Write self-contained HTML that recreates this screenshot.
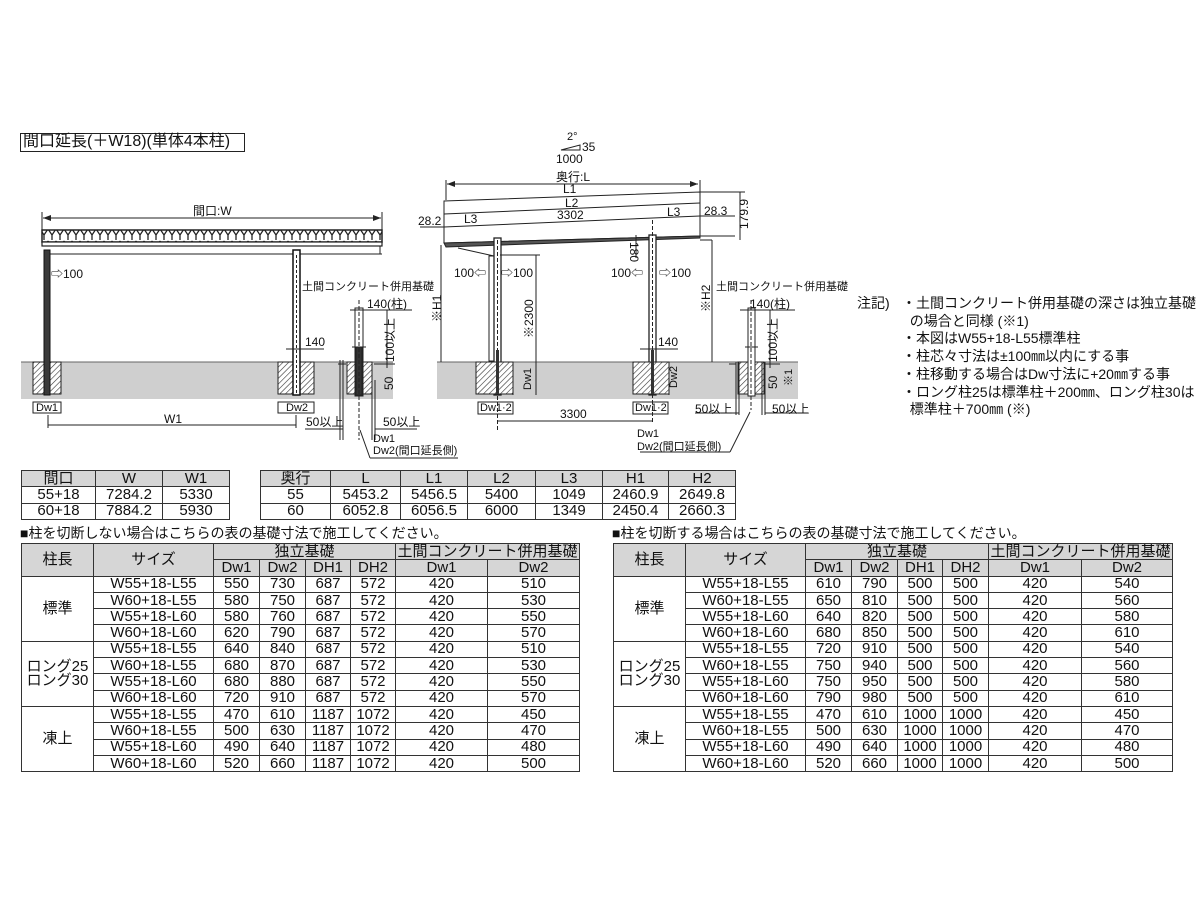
<!DOCTYPE html>
<html><head><meta charset="utf-8">
<style>
body{margin:0;background:#fff;}
#root{position:relative;width:1200px;height:900px;overflow:hidden;font-family:"Liberation Sans","Noto Sans CJK JP",sans-serif;color:#111;}
.t{position:absolute;white-space:nowrap;line-height:1;}
table{position:absolute;border-collapse:collapse;table-layout:fixed;font-size:15px;}
td{border:1px solid #333;padding:0;text-align:center;height:15.3px;line-height:14px;overflow:hidden;white-space:nowrap;}
td.h{background:#d6d6d6;}
svg{position:absolute;left:0;top:0;}
</style></head><body><div id="root">

<svg width="1200" height="900" viewBox="0 0 1200 900">
<defs>
<pattern id="hatch" width="4" height="4" patternUnits="userSpaceOnUse" patternTransform="rotate(45)">
<rect width="4" height="4" fill="#fff"/><line x1="0" y1="0" x2="0" y2="4" stroke="#333" stroke-width="1.2"/></pattern>
<pattern id="lat" width="8" height="12" patternUnits="userSpaceOnUse">
<rect width="8" height="12" fill="#fff"/><path d="M0 1 L4 7 L8 1 M4 7 V12" stroke="#222" stroke-width="1.3" fill="none"/></pattern>
<marker id="ar" markerWidth="8" markerHeight="6" refX="8" refY="3" orient="auto-start-reverse"><path d="M0 0 L8 3 L0 6" fill="#222"/></marker>
</defs>
<g stroke="#222" stroke-width="1" fill="none">
<rect x="20.5" y="133.5" width="224" height="18"/>
<rect x="21" y="362" width="372" height="37" fill="#cfcfcf" stroke="none"/>
<rect x="437" y="362" width="361" height="37" fill="#cfcfcf" stroke="none"/>
<line x1="21" y1="362" x2="393" y2="362" stroke="#666"/>
<line x1="437" y1="362" x2="798" y2="362" stroke="#666"/>
<line x1="43" y1="218" x2="381" y2="218" marker-start="url(#ar)" marker-end="url(#ar)"/>
<line x1="42" y1="212" x2="42" y2="232"/><line x1="382" y1="212" x2="382" y2="232"/>
<rect x="42" y="230" width="340" height="12" fill="url(#lat)" stroke="#222" stroke-width="1.5"/>
<rect x="42" y="242" width="340" height="4" fill="#fff" stroke-width="1.2"/>
<line x1="48" y1="254" x2="382" y2="254"/><line x1="380" y1="246" x2="380" y2="254"/>
<rect x="33" y="362" width="28" height="32" fill="url(#hatch)"/>
<rect x="278" y="362" width="36" height="32" fill="url(#hatch)"/>
<rect x="44" y="250" width="6" height="145" fill="#3a3a3a" stroke="#111"/>
<rect x="293" y="250" width="7" height="145" fill="#fff" stroke="#111" stroke-width="1.5"/>
<line x1="296.5" y1="255" x2="296.5" y2="395" stroke-dasharray="3 2"/>
<rect x="33" y="402" width="28" height="11"/><rect x="278" y="402" width="36" height="11"/>
<line x1="48" y1="415" x2="48" y2="428"/><line x1="296" y1="415" x2="296" y2="428"/>
<line x1="48" y1="425" x2="296" y2="425"/>
<line x1="286" y1="349" x2="324" y2="349"/>
<rect x="347" y="362" width="25" height="32" fill="url(#hatch)"/>
<rect x="355" y="308" width="8" height="88" fill="#fff"/>
<rect x="356" y="347" width="6" height="48" fill="#333"/>
<line x1="359" y1="300" x2="359" y2="440" stroke-dasharray="4 2"/>
<line x1="350" y1="310" x2="412" y2="310"/>
<line x1="352" y1="347" x2="366" y2="347"/>
<line x1="387" y1="310" x2="387" y2="368"/>
<line x1="340" y1="360" x2="340" y2="440"/><line x1="343" y1="360" x2="343" y2="440"/>
<line x1="372" y1="380" x2="372" y2="440"/><line x1="375" y1="380" x2="375" y2="440"/>
<line x1="338" y1="364" x2="346" y2="364"/><line x1="374" y1="364" x2="395" y2="364"/>
<line x1="305" y1="429" x2="343" y2="429"/><line x1="375" y1="429" x2="417" y2="429"/>
<line x1="360" y1="430" x2="370" y2="458"/><line x1="370" y1="458" x2="458" y2="458"/>
<line x1="447" y1="184" x2="698" y2="184" marker-start="url(#ar)" marker-end="url(#ar)"/>
<line x1="446" y1="180" x2="446" y2="200"/><line x1="700" y1="180" x2="700" y2="192"/>
<polygon points="444,201 700,192 700,236 444,243" fill="#fff"/>
<line x1="444" y1="214" x2="700" y2="203"/>
<line x1="444" y1="227" x2="700" y2="216"/>
<polygon points="444,243 700,236 700,238 446,247" fill="#555"/>
<line x1="700" y1="236" x2="735" y2="236"/><line x1="740" y1="192" x2="740" y2="240"/>
<line x1="700" y1="192" x2="745" y2="192"/>
<line x1="420" y1="227" x2="444" y2="227"/><line x1="700" y1="216" x2="735" y2="216"/>
<line x1="458" y1="248" x2="494" y2="256"/>
<rect x="489" y="256" width="5" height="105" fill="#fff"/>
<rect x="494" y="238" width="7" height="157" fill="#fff" stroke-width="1.3"/>
<line x1="497.5" y1="240" x2="497.5" y2="430" stroke-dasharray="4 2"/>
<rect x="649" y="235" width="7" height="160" fill="#fff" stroke-width="1.3"/>
<line x1="652.5" y1="220" x2="652.5" y2="422" stroke-dasharray="4 2"/>
<line x1="441" y1="245" x2="441" y2="362"/>
<line x1="500" y1="255" x2="540" y2="255"/><line x1="536" y1="255" x2="536" y2="395"/>
<line x1="636" y1="235" x2="636" y2="258"/>
<line x1="700" y1="240" x2="712" y2="240"/><line x1="712" y1="240" x2="712" y2="362"/>
<rect x="476" y="362" width="37" height="32" fill="url(#hatch)"/>
<rect x="633" y="362" width="36" height="32" fill="url(#hatch)"/>
<rect x="496" y="350" width="3" height="44" fill="#333" stroke="none"/>
<rect x="651" y="350" width="3" height="44" fill="#333" stroke="none"/>
<line x1="513" y1="362" x2="513" y2="395"/><line x1="669" y1="362" x2="669" y2="395"/>
<rect x="478" y="402" width="35" height="12"/><rect x="633" y="402" width="35" height="12"/>
<line x1="497" y1="421" x2="652" y2="421"/>
<line x1="640" y1="349" x2="678" y2="349"/>
<rect x="738" y="362" width="26" height="32" fill="url(#hatch)"/>
<rect x="748" y="308" width="7" height="88" fill="#fff"/>
<line x1="751" y1="300" x2="751" y2="410" stroke-dasharray="4 2"/>
<line x1="740" y1="310" x2="795" y2="310"/>
<line x1="745" y1="347" x2="758" y2="347"/>
<line x1="770" y1="310" x2="770" y2="368"/>
<line x1="736" y1="362" x2="736" y2="415"/><line x1="739" y1="362" x2="739" y2="415"/>
<line x1="762" y1="362" x2="762" y2="415"/><line x1="765" y1="362" x2="765" y2="415"/>
<line x1="729" y1="364" x2="736" y2="364"/><line x1="765" y1="364" x2="780" y2="364"/>
<line x1="695" y1="413" x2="739" y2="413"/><line x1="765" y1="413" x2="808" y2="413"/>
<line x1="750" y1="412" x2="730" y2="452"/><line x1="730" y1="452" x2="640" y2="452"/>
<path d="M561 150 L580 145 L580 150 Z"/>
</g>
</svg>

<div class="t" style="left:23px;top:134px;font-size:16px;">間口延長(＋W18)(単体4本柱)</div>
<div class="t" style="left:193px;top:205px;font-size:12px;">間口:W</div>
<div class="t" style="left:51px;top:268px;font-size:12px;">⇨100</div>
<div class="t" style="left:302px;top:282px;font-size:11px;">土間コンクリート併用基礎</div>
<div class="t" style="left:367px;top:298px;font-size:12px;">140(柱)</div>
<div class="t" style="left:305px;top:336px;font-size:12px;">140</div>
<div class="t" style="left:384px;top:362px;font-size:12px;transform:rotate(-90deg);transform-origin:0 0;">100以上</div>
<div class="t" style="left:383px;top:390px;font-size:12px;transform:rotate(-90deg);transform-origin:0 0;">50</div>
<div class="t" style="left:36px;top:403px;font-size:11px;">Dw1</div>
<div class="t" style="left:286px;top:403px;font-size:11px;">Dw2</div>
<div class="t" style="left:164px;top:413px;font-size:12px;">W1</div>
<div class="t" style="left:306px;top:416px;font-size:12px;">50以上</div>
<div class="t" style="left:383px;top:416px;font-size:12px;">50以上</div>
<div class="t" style="left:373px;top:434px;font-size:11px;">Dw1</div>
<div class="t" style="left:373px;top:446px;font-size:11px;">Dw2(間口延長側)</div>

<div class="t" style="left:567px;top:132px;font-size:11px;">2°</div>
<div class="t" style="left:582px;top:141px;font-size:12px;">35</div>
<div class="t" style="left:556px;top:153px;font-size:12px;">1000</div>
<div class="t" style="left:556px;top:171px;font-size:12px;">奥行:L</div>
<div class="t" style="left:563px;top:183px;font-size:12px;">L1</div>
<div class="t" style="left:565px;top:197px;font-size:12px;">L2</div>
<div class="t" style="left:557px;top:209px;font-size:12px;">3302</div>
<div class="t" style="left:464px;top:213px;font-size:12px;">L3</div>
<div class="t" style="left:667px;top:206px;font-size:12px;">L3</div>
<div class="t" style="left:418px;top:215px;font-size:12px;">28.2</div>
<div class="t" style="left:704px;top:205px;font-size:12px;">28.3</div>
<div class="t" style="left:738px;top:229px;font-size:12px;transform:rotate(-90deg);transform-origin:0 0;">179.9</div>
<div class="t" style="left:640px;top:242px;font-size:12px;transform:rotate(90deg);transform-origin:0 0;">180</div>
<div class="t" style="left:454px;top:267px;font-size:12px;">100⇦</div>
<div class="t" style="left:501px;top:267px;font-size:12px;">⇨100</div>
<div class="t" style="left:611px;top:267px;font-size:12px;">100⇦</div>
<div class="t" style="left:659px;top:267px;font-size:12px;">⇨100</div>
<div class="t" style="left:431px;top:322px;font-size:12px;transform:rotate(-90deg);transform-origin:0 0;">※H1</div>
<div class="t" style="left:523px;top:338px;font-size:12px;transform:rotate(-90deg);transform-origin:0 0;">※2300</div>
<div class="t" style="left:700px;top:312px;font-size:12px;transform:rotate(-90deg);transform-origin:0 0;">※H2</div>
<div class="t" style="left:523px;top:390px;font-size:11px;transform:rotate(-90deg);transform-origin:0 0;">Dw1</div>
<div class="t" style="left:669px;top:388px;font-size:11px;transform:rotate(-90deg);transform-origin:0 0;">Dw2</div>
<div class="t" style="left:658px;top:336px;font-size:12px;">140</div>
<div class="t" style="left:716px;top:282px;font-size:11px;">土間コンクリート併用基礎</div>
<div class="t" style="left:750px;top:298px;font-size:12px;">140(柱)</div>
<div class="t" style="left:767px;top:362px;font-size:12px;transform:rotate(-90deg);transform-origin:0 0;">100以上</div>
<div class="t" style="left:767px;top:389px;font-size:12px;transform:rotate(-90deg);transform-origin:0 0;">50</div>
<div class="t" style="left:784px;top:386px;font-size:11px;transform:rotate(-90deg);transform-origin:0 0;">※1</div>
<div class="t" style="left:480px;top:403px;font-size:11px;">Dw1·2</div>
<div class="t" style="left:635px;top:403px;font-size:11px;">Dw1·2</div>
<div class="t" style="left:560px;top:408px;font-size:12px;">3300</div>
<div class="t" style="left:695px;top:403px;font-size:12px;">50以上</div>
<div class="t" style="left:772px;top:403px;font-size:12px;">50以上</div>
<div class="t" style="left:637px;top:429px;font-size:11px;">Dw1</div>
<div class="t" style="left:637px;top:442px;font-size:11px;">Dw2(間口延長側)</div>

<div class="t" style="left:857px;top:295px;font-size:14px;line-height:17.7px;">注記)</div>
<div class="t" style="left:902px;top:295px;font-size:14px;line-height:17.7px;">・土間コンクリート併用基礎の深さは独立基礎<br>&nbsp;&nbsp;の場合と同様 (※1)<br>・本図はW55+18-L55標準柱<br>・柱芯々寸法は±100㎜以内にする事<br>・柱移動する場合はDw寸法に+20㎜する事<br>・ロング柱25は標準柱＋200㎜、ロング柱30は<br>&nbsp;&nbsp;標準柱＋700㎜ (※)</div>

<table style="left:21px;top:470px;width:208px;">
<colgroup><col style="width:74px"><col style="width:67px"><col style="width:67px"></colgroup>
<tr><td class="h">間口</td><td class="h">W</td><td class="h">W1</td></tr>
<tr><td>55+18</td><td>7284.2</td><td>5330</td></tr>
<tr><td>60+18</td><td>7884.2</td><td>5930</td></tr>
</table>
<table style="left:260px;top:470px;width:475px;">
<colgroup><col style="width:70px"><col style="width:70px"><col style="width:67px"><col style="width:68px"><col style="width:67px"><col style="width:66px"><col style="width:67px"></colgroup>
<tr><td class="h">奥行</td><td class="h">L</td><td class="h">L1</td><td class="h">L2</td><td class="h">L3</td><td class="h">H1</td><td class="h">H2</td></tr>
<tr><td>55</td><td>5453.2</td><td>5456.5</td><td>5400</td><td>1049</td><td>2460.9</td><td>2649.8</td></tr>
<tr><td>60</td><td>6052.8</td><td>6056.5</td><td>6000</td><td>1349</td><td>2450.4</td><td>2660.3</td></tr>
</table>

<div class="t" style="left:20px;top:526px;font-size:14px;">■柱を切断しない場合はこちらの表の基礎寸法で施工してください。</div>
<div class="t" style="left:612px;top:526px;font-size:14px;">■柱を切断する場合はこちらの表の基礎寸法で施工してください。</div>

<table style="left:21px;top:543px;width:558px;">
<colgroup><col style="width:72px"><col style="width:120px"><col style="width:46px"><col style="width:46px"><col style="width:45px"><col style="width:45px"><col style="width:92px"><col style="width:92px"></colgroup>
<tr><td class="h" rowspan="2">柱長</td><td class="h" rowspan="2">サイズ</td><td class="h" colspan="4">独立基礎</td><td class="h" colspan="2">土間コンクリート併用基礎</td></tr>
<tr><td class="h">Dw1</td><td class="h">Dw2</td><td class="h">DH1</td><td class="h">DH2</td><td class="h">Dw1</td><td class="h">Dw2</td></tr>
<tr><td rowspan="4">標準</td><td>W55+18-L55</td><td>550</td><td>730</td><td>687</td><td>572</td><td>420</td><td>510</td></tr>
<tr><td>W60+18-L55</td><td>580</td><td>750</td><td>687</td><td>572</td><td>420</td><td>530</td></tr>
<tr><td>W55+18-L60</td><td>580</td><td>760</td><td>687</td><td>572</td><td>420</td><td>550</td></tr>
<tr><td>W60+18-L60</td><td>620</td><td>790</td><td>687</td><td>572</td><td>420</td><td>570</td></tr>
<tr><td rowspan="4">ロング25<br>ロング30</td><td>W55+18-L55</td><td>640</td><td>840</td><td>687</td><td>572</td><td>420</td><td>510</td></tr>
<tr><td>W60+18-L55</td><td>680</td><td>870</td><td>687</td><td>572</td><td>420</td><td>530</td></tr>
<tr><td>W55+18-L60</td><td>680</td><td>880</td><td>687</td><td>572</td><td>420</td><td>550</td></tr>
<tr><td>W60+18-L60</td><td>720</td><td>910</td><td>687</td><td>572</td><td>420</td><td>570</td></tr>
<tr><td rowspan="4">凍上</td><td>W55+18-L55</td><td>470</td><td>610</td><td>1187</td><td>1072</td><td>420</td><td>450</td></tr>
<tr><td>W60+18-L55</td><td>500</td><td>630</td><td>1187</td><td>1072</td><td>420</td><td>470</td></tr>
<tr><td>W55+18-L60</td><td>490</td><td>640</td><td>1187</td><td>1072</td><td>420</td><td>480</td></tr>
<tr><td>W60+18-L60</td><td>520</td><td>660</td><td>1187</td><td>1072</td><td>420</td><td>500</td></tr>
</table>

<table style="left:613px;top:543px;width:559px;">
<colgroup><col style="width:72px"><col style="width:120px"><col style="width:46px"><col style="width:46px"><col style="width:45px"><col style="width:46px"><col style="width:93px"><col style="width:91px"></colgroup>
<tr><td class="h" rowspan="2">柱長</td><td class="h" rowspan="2">サイズ</td><td class="h" colspan="4">独立基礎</td><td class="h" colspan="2">土間コンクリート併用基礎</td></tr>
<tr><td class="h">Dw1</td><td class="h">Dw2</td><td class="h">DH1</td><td class="h">DH2</td><td class="h">Dw1</td><td class="h">Dw2</td></tr>
<tr><td rowspan="4">標準</td><td>W55+18-L55</td><td>610</td><td>790</td><td>500</td><td>500</td><td>420</td><td>540</td></tr>
<tr><td>W60+18-L55</td><td>650</td><td>810</td><td>500</td><td>500</td><td>420</td><td>560</td></tr>
<tr><td>W55+18-L60</td><td>640</td><td>820</td><td>500</td><td>500</td><td>420</td><td>580</td></tr>
<tr><td>W60+18-L60</td><td>680</td><td>850</td><td>500</td><td>500</td><td>420</td><td>610</td></tr>
<tr><td rowspan="4">ロング25<br>ロング30</td><td>W55+18-L55</td><td>720</td><td>910</td><td>500</td><td>500</td><td>420</td><td>540</td></tr>
<tr><td>W60+18-L55</td><td>750</td><td>940</td><td>500</td><td>500</td><td>420</td><td>560</td></tr>
<tr><td>W55+18-L60</td><td>750</td><td>950</td><td>500</td><td>500</td><td>420</td><td>580</td></tr>
<tr><td>W60+18-L60</td><td>790</td><td>980</td><td>500</td><td>500</td><td>420</td><td>610</td></tr>
<tr><td rowspan="4">凍上</td><td>W55+18-L55</td><td>470</td><td>610</td><td>1000</td><td>1000</td><td>420</td><td>450</td></tr>
<tr><td>W60+18-L55</td><td>500</td><td>630</td><td>1000</td><td>1000</td><td>420</td><td>470</td></tr>
<tr><td>W55+18-L60</td><td>490</td><td>640</td><td>1000</td><td>1000</td><td>420</td><td>480</td></tr>
<tr><td>W60+18-L60</td><td>520</td><td>660</td><td>1000</td><td>1000</td><td>420</td><td>500</td></tr>
</table>

</div></body></html>
